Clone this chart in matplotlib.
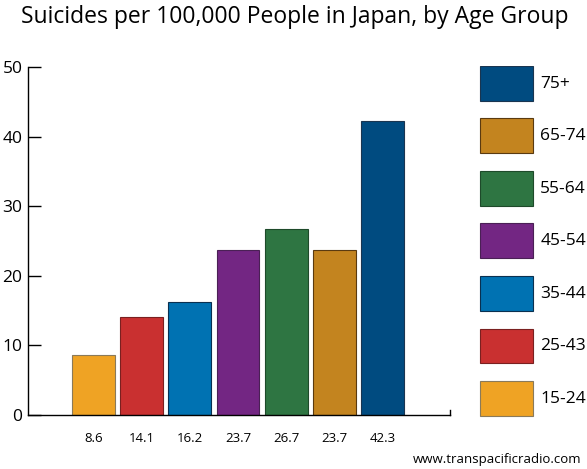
import matplotlib.pyplot as plt
from matplotlib.patches import Rectangle

# --- データ ---
age_groups = ['15-24', '25-43', '35-44', '45-54', '55-64', '65-74', '75+']
rates = [8.6, 14.1, 16.2, 23.7, 26.7, 23.7, 42.3]
colors = ['#EFA324', '#C93030', '#0072B2', '#732683', '#2E7542', '#C3841F', '#004B80']
edges = ['#8a7a5a', '#7a2020', '#0a3050', '#4a2055', '#1e4a2a', '#5a3a10', '#1a3550']
y_ticks = [0, 10, 20, 30, 40, 50]

plt.rcParams['font.family'] = ['Open Sans', 'DejaVu Sans']

W, H = 587, 469
fig = plt.figure(figsize=(W / 100, H / 100), dpi=100)

def box(x0, y0, x1, y1):
    # pixel box (top-left origin) -> figure fraction
    return [x0 / W, 1 - y1 / H, (x1 - x0) / W, (y1 - y0) / H]

# --- 棒グラフ ---
ax = fig.add_axes(box(28, 67, 450, 415))
x = list(range(len(rates)))
ax.bar(x, rates, width=0.89, color=colors, edgecolor=edges, linewidth=0.8)
ax.set_xlim(-1.36, 7.40)
ax.set_ylim(0, 50)
ax.set_yticks(y_ticks)
ax.set_yticklabels([str(t) for t in y_ticks], fontsize=12.5)
ax.tick_params(axis='y', direction='in', length=9, width=1, pad=4)
ax.set_xticks(x)
ax.set_xticklabels([f'{r}' for r in rates], fontsize=9.5)
ax.tick_params(axis='x', length=0, pad=12)
ax.spines['top'].set_visible(False)
ax.spines['right'].set_bounds(0, 0.7)
for s in ['left', 'bottom', 'right']:
    ax.spines[s].set_linewidth(1)

# --- 凡例 ---
lax = fig.add_axes(box(470, 66, 587, 433.5))
lax.set_xlim(0, 1)
lax.set_ylim(0, len(age_groups))
lax.axis('off')
for i, (lab, c, e) in enumerate(zip(age_groups, colors, edges)):
    lax.add_patch(Rectangle((0.085, i + 0.34), 0.455, 0.66, facecolor=c,
                            edgecolor=e, linewidth=0.8))
    lax.text(0.60, i + 0.66, lab, fontsize=12.5, va='center', ha='left')

fig.text(295 / W, 1 - 17 / H, 'Suicides per 100,000 People in Japan, by Age Group',
         fontsize=16.5, ha='center', va='center')
fig.text(581 / W, 1 - 459 / H, 'www.transpacificradio.com', fontsize=9.5,
         ha='right', va='center')

fig.savefig('out.png', dpi=100)
